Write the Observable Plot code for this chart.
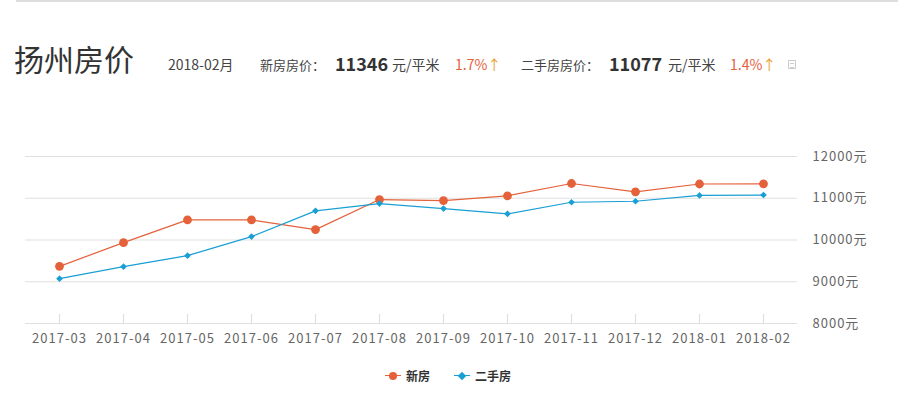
<!DOCTYPE html>
<html>
<head>
<meta charset="utf-8">
<script src="https://cdn.jsdelivr.net/npm/d3@7"></script>
<script src="https://cdn.jsdelivr.net/npm/@observablehq/plot@0.6"></script>
<style>
  html, body { margin: 0; padding: 0; background: #fff; }
  body { width: 898px; height: 397px; position: relative; overflow: hidden;
         font-family: "Noto Sans CJK SC", "Noto Sans", sans-serif; color: #333; }
  .topline { position: absolute; left: 16px; right: 0; top: 0; height: 2px; background: #ddd; }
  .t { position: absolute; white-space: nowrap; line-height: 1; }
  #chart { position: absolute; left: 0; top: 140px; }
  .legend { position: absolute; top: 367px; font-size: 12px; font-weight: bold; color: #333; display: flex; align-items: center; }
  .lg-dot { position: absolute; left: 4px; top: 2px; width: 8px; height: 8px; border-radius: 50%; }
  .lg-dia { position: absolute; left: 5px; top: 3px; width: 6px; height: 6px; transform: rotate(45deg); }
  .icon { position: absolute; left: 788px; top: 60px; width: 8px; height: 9px; border: 1px solid #ccc; box-sizing: border-box; }
  .icon::after { content: ""; position: absolute; left: 1px; right: 1px; top: 2px; height: 3px; border-top: 1px solid #ccc; border-bottom: 1px solid #ccc; }
</style>
</head>
<body>
<div class="topline"></div>
<div class="t" style="left:14px; top:43px; font-size:30px; color:#333;">扬州房价</div>
<div class="t" style="left:168px; top:57px; font-size:14px; color:#444;">2018-02月</div>
<div class="t" style="left:260px; top:58px; font-size:13px; color:#444;">新房房价：</div>
<div class="t" style="left:335px; top:54px; font-size:18px; font-weight:bold; color:#333;">11346</div>
<div class="t" style="left:392px; top:57px; font-size:14px; color:#444;">元/平米</div>
<div class="t" style="left:455px; top:57px; font-size:14px; color:#e4613a;">1.7%<span style="color:#e8a030">↑</span></div>
<div class="t" style="left:521px; top:58px; font-size:13px; color:#444;">二手房房价：</div>
<div class="t" style="left:609px; top:54px; font-size:18px; font-weight:bold; color:#333;">11077</div>
<div class="t" style="left:668px; top:57px; font-size:14px; color:#444;">元/平米</div>
<div class="t" style="left:730px; top:57px; font-size:14px; color:#e4613a;">1.4%<span style="color:#e8a030">↑</span></div>
<div class="icon"></div>
<div id="chart"></div>
<div class="legend" style="left:385px;"></div>
<script>
const months = ["2017-03","2017-04","2017-05","2017-06","2017-07","2017-08","2017-09","2017-10","2017-11","2017-12","2018-01","2018-02"];
const newPrice = [9369, 9937, 10482, 10480, 10249, 10969, 10945, 11058, 11353, 11154, 11341, 11346];
const secondPrice = [9073, 9361, 9625, 10081, 10698, 10873, 10753, 10626, 10904, 10928, 11068, 11077];
const yTicks = [8000, 9000, 10000, 11000, 12000];
const seriesNames = ["新房", "二手房"];
const colors = ["#e4613a", "#1a9fd4"];

const newData = months.map((m, i) => ({month: m, value: newPrice[i]}));
const secData = months.map((m, i) => ({month: m, value: secondPrice[i]}));

const chart = Plot.plot({
  width: 898,
  height: 210,
  marginTop: 16,
  marginBottom: 27,
  marginLeft: 25,
  marginRight: 101,
  style: {fontFamily: '"Noto Sans CJK SC", "Noto Sans", sans-serif', fontSize: "13px", color: "#666", background: "transparent"},
  x: {type: "point", domain: months, padding: 0.5},
  y: {domain: [8000, 12000]},
  marks: [
    Plot.gridY(yTicks, {stroke: "#e0e0e0", strokeOpacity: 1, strokeWidth: 1.2}),
    Plot.ruleX(months, {x: d => d, insetTop: 158, stroke: "#e0e0e0", strokeWidth: 1.2}),
    Plot.line(newData, {x: "month", y: "value", stroke: colors[0], strokeWidth: 1.2}),
    Plot.line(secData, {x: "month", y: "value", stroke: colors[1], strokeWidth: 1.2}),
    Plot.dot(newData, {x: "month", y: "value", r: 4.4, fill: colors[0], stroke: null}),
    Plot.dot(secData, {x: "month", y: "value", r: 3, symbol: "diamond2", fill: colors[1], stroke: null}),
    Plot.axisX({tickSize: 0, tickPadding: 10, fill: "#666", fontSize: 13, label: null}),
    Plot.axisY({anchor: "right", ticks: yTicks, tickFormat: d => d + "元", tickSize: 0, tickPadding: 15, fill: "#666", fontSize: 13, label: null})
  ]
});
chart.querySelectorAll("text").forEach(t => t.style.letterSpacing = "1px");
document.getElementById("chart").appendChild(chart);

// legend
const legend = document.querySelector(".legend");
seriesNames.forEach((name, i) => {
  const item = document.createElement("div");
  item.style.display = "flex";
  item.style.alignItems = "center";
  item.style.marginRight = i === 0 ? "24px" : "0";
  const icon = document.createElement("div");
  icon.style.cssText = "position:relative;width:16px;height:12px;margin-right:5px;";
  const line = document.createElement("div");
  line.style.cssText = `position:absolute;left:0;right:0;top:5.5px;height:1.2px;background:${colors[i]};`;
  const sym = document.createElement("div");
  sym.className = i === 0 ? "lg-dot" : "lg-dia";
  sym.style.background = colors[i];
  icon.appendChild(line); icon.appendChild(sym);
  const label = document.createElement("span");
  label.textContent = name;
  item.appendChild(icon); item.appendChild(label);
  legend.appendChild(item);
});
</script>
</body>
</html>
